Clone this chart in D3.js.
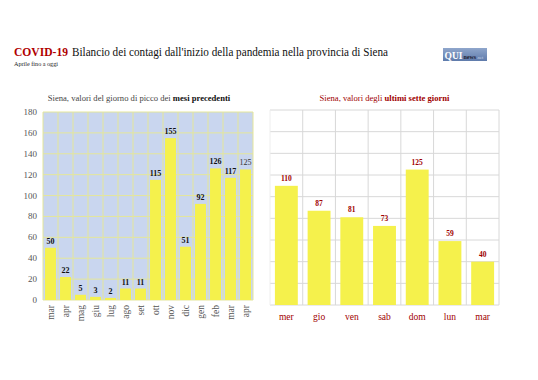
<!DOCTYPE html>
<html><head><meta charset="utf-8">
<script src="https://cdn.jsdelivr.net/npm/d3@7"></script>
<style>
body{margin:0;background:#fff;}
svg text{font-family:"Liberation Serif","DejaVu Serif",serif;}
</style></head>
<body>
<svg id="c" width="538" height="380"></svg>
<script>
const monthLabels = ["mar","apr","mag","giu","lug","ago","set","ott","nov","dic","gen","feb","mar","apr"];
const monthValues = [50,22,5,3,2,11,11,115,155,51,92,126,117,125];
const dayLabels = ["mer","gio","ven","sab","dom","lun","mar"];
const dayValues = [110,87,81,73,125,59,40];
const yTicks = [0,20,40,60,80,100,120,140,160,180];

const svg = d3.select("#c");
svg.append("rect").attr("width",538).attr("height",380).attr("fill","#fff");

// Title
svg.append("text").attr("x",14).attr("y",56).attr("font-size",13.5).attr("fill","#b00000").attr("font-weight","bold")
  .attr("textLength",54).attr("lengthAdjust","spacingAndGlyphs").text("COVID-19");
svg.append("text").attr("x",72).attr("y",56).attr("font-size",13.5).attr("fill","#111")
  .attr("textLength",316).attr("lengthAdjust","spacingAndGlyphs").text("Bilancio dei contagi dall'inizio della pandemia nella provincia di Siena");
svg.append("text").attr("x",14).attr("y",66).attr("font-size",7).attr("fill","#222")
  .attr("textLength",44).attr("lengthAdjust","spacingAndGlyphs").text("Aprile fino a oggi");

// Logo
const lg = svg.append("g").attr("transform","translate(443,48)");
const grad = svg.append("defs").append("linearGradient").attr("id","lgg").attr("x1",0).attr("y1",0).attr("x2",0).attr("y2",1);
grad.append("stop").attr("offset","0").attr("stop-color","#8fa6cc");
grad.append("stop").attr("offset","1").attr("stop-color","#5f7bab");
lg.append("rect").attr("width",44).attr("height",13).attr("fill","url(#lgg)");
const lt = lg.append("text").attr("x",1.5).attr("y",10.5).attr("font-family","Liberation Sans, Arial, sans-serif").attr("font-weight","bold");
lt.append("tspan").attr("font-size",9.5).attr("fill","#fff").text("QUI");
lt.append("tspan").attr("font-size",6).attr("fill","#223").attr("dx",1).text("news");
lt.append("tspan").attr("font-size",4.5).attr("font-weight","normal").attr("fill","#c8d4ea").attr("dx",0.5).text(".net");

// Left chart
const L = {x0:43, x1:253, y0:300, y1:112};
const xL = d3.scaleBand().domain(d3.range(monthLabels.length)).range([L.x0,L.x1]).paddingInner(0.27).paddingOuter(0.135);
const xLg = d3.scaleBand().domain(d3.range(monthLabels.length)).range([L.x0,L.x1]);
const yL = d3.scaleLinear().domain([0,180]).range([L.y0,L.y1]);
const gL = svg.append("g");
gL.append("rect").attr("x",L.x0).attr("y",L.y1).attr("width",L.x1-L.x0).attr("height",L.y0-L.y1).attr("fill","#c9d6ef");
gL.selectAll("line.h").data(yTicks).join("line").attr("x1",L.x0).attr("x2",L.x1).attr("y1",d=>yL(d)).attr("y2",d=>yL(d)).attr("stroke","#e4e69a").attr("stroke-width",1);
gL.selectAll("line.v").data(d3.range(monthLabels.length+1)).join("line")
  .attr("x1",d=>L.x0+d*xLg.bandwidth()).attr("x2",d=>L.x0+d*xLg.bandwidth()).attr("y1",L.y1).attr("y2",L.y0).attr("stroke","#e4e69a").attr("stroke-width",1);
gL.selectAll("rect.bar").data(monthValues).join("rect").attr("class","bar")
  .attr("x",(d,i)=>xL(i)).attr("width",xL.bandwidth()).attr("y",d=>yL(d)).attr("height",d=>L.y0-yL(d)).attr("fill","#f5f14c");
gL.selectAll("text.val").data(monthValues).join("text").attr("class","val")
  .attr("x",(d,i)=>xL(i)+xL.bandwidth()/2).attr("y",d=>yL(d)-4).attr("text-anchor","middle")
  .attr("font-size",8).attr("font-weight",(d,i)=>i===monthValues.length-1?"normal":"bold").attr("fill",(d,i)=>i===monthValues.length-1?"#333":"#111").text(d=>d);
gL.selectAll("text.yt").data(yTicks).join("text").attr("class","yt")
  .attr("x",37).attr("y",d=>yL(d)+3).attr("text-anchor","end").attr("font-size",9).attr("fill","#555").text(d=>d);
gL.selectAll("text.xl").data(monthLabels).join("text").attr("class","xl")
  .attr("transform",(d,i)=>`translate(${xL(i)+xL.bandwidth()/2+3},305) rotate(-90)`)
  .attr("text-anchor","end").attr("font-size",9.5).attr("fill","#555").text(d=>d);
const tl = svg.append("text").attr("x",139).attr("y",101).attr("text-anchor","middle").attr("font-size",8.6).attr("fill","#444");
tl.append("tspan").text("Siena, valori del giorno di picco dei ");
tl.append("tspan").attr("font-weight","bold").attr("fill","#111").text("mesi precedenti");

// Right chart
const R = {x0:270, x1:499, y0:305, y1:110};
const xR = d3.scaleBand().domain(d3.range(dayLabels.length)).range([R.x0,R.x1]).paddingInner(0.3).paddingOuter(0.15);
const xRg = d3.scaleBand().domain(d3.range(dayLabels.length)).range([R.x0,R.x1]);
const yR = d3.scaleLinear().domain([0,180]).range([R.y0,R.y1]);
const gR = svg.append("g");
gR.selectAll("line.h").data(yTicks).join("line").attr("x1",R.x0).attr("x2",R.x1).attr("y1",d=>yR(d)).attr("y2",d=>yR(d)).attr("stroke","#d8d8d8").attr("stroke-width",1);
gR.selectAll("line.v").data(d3.range(dayLabels.length+1)).join("line")
  .attr("x1",d=>R.x0+d*xRg.bandwidth()).attr("x2",d=>R.x0+d*xRg.bandwidth()).attr("y1",R.y1).attr("y2",R.y0)
  .attr("stroke",d=>d===0?"#eeeeee":"#d8d8d8").attr("stroke-width",1);
gR.selectAll("rect.bar").data(dayValues).join("rect").attr("class","bar")
  .attr("x",(d,i)=>xR(i)).attr("width",xR.bandwidth()).attr("y",d=>yR(d)).attr("height",d=>R.y0-yR(d)).attr("fill","#f5f14c");
gR.selectAll("text.val").data(dayValues).join("text").attr("class","val")
  .attr("x",(d,i)=>xR(i)+xR.bandwidth()/2).attr("y",d=>yR(d)-5).attr("text-anchor","middle")
  .attr("font-size",7.5).attr("font-weight","bold").attr("fill","#a00000").text(d=>d);
gR.selectAll("text.xl").data(dayLabels).join("text").attr("class","xl")
  .attr("x",(d,i)=>xR(i)+xR.bandwidth()/2).attr("y",320).attr("text-anchor","middle")
  .attr("font-size",9.5).attr("fill","#a00000").text(d=>d);
const tr = svg.append("text").attr("x",384.5).attr("y",101).attr("text-anchor","middle").attr("font-size",8.6).attr("fill","#a00000");
tr.append("tspan").text("Siena, valori degli ");
tr.append("tspan").attr("font-weight","bold").text("ultimi sette giorni");
</script>
</body></html>
